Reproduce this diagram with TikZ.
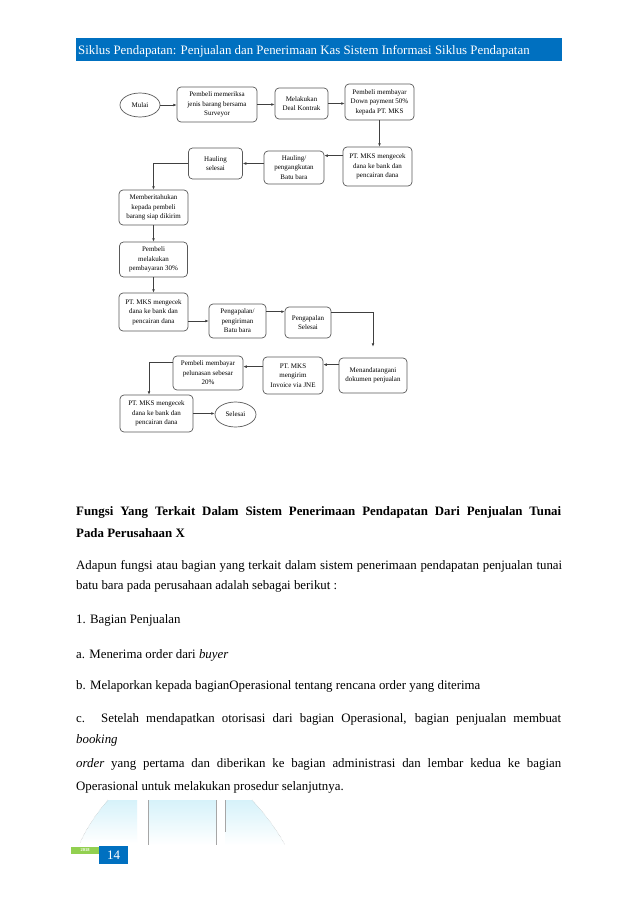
\documentclass[tikz,border=0pt]{standalone}
\usepackage{fontspec}
\setmainfont{Liberation Serif}
\usepackage{tikz}
\usetikzlibrary{shapes.geometric, arrows.meta, positioning, calc}
\usepackage{xcolor}
\definecolor{hdblue}{RGB}{0,112,192}
\definecolor{ftgreen}{RGB}{146,208,80}
\definecolor{ftcyan}{RGB}{214,242,250}
\newcommand{\flowfnt}{\fontsize{7}{9.4}\selectfont}
\newcommand{\bodyfnt}{\fontsize{12.86}{15}\selectfont}
\tikzset{
  fbox/.style={rectangle, draw=black!65, fill=white, line width=0.7pt,
    rounded corners=4pt, align=center, font=\flowfnt, inner sep=1pt},
  fend/.style={ellipse, draw=black!65, fill=white, line width=0.7pt,
    font=\flowfnt, inner sep=1pt},
  arr/.style={-{Latex[length=3.4pt,width=2.8pt]}, line width=0.6pt, draw=black!75},
  txt/.style={anchor=base west, inner sep=0pt, font=\bodyfnt},
}

\begin{document}
\begin{tikzpicture}[x=1pt, y=-1pt]
  \useasboundingbox[fill=white] (0,0) rectangle (638,902);

  % Header bar
  \fill[hdblue] (76,38) rectangle (562,61);
  \node[txt, text=white] (title) at (78,54)
       {Siklus Pendapatan: Penjualan dan Penerimaan Kas Sistem Informasi Siklus Pendapatan};

  % Flowchart: row 1
  \node[fend, minimum width=40, minimum height=24] (mulai) at (140,105) {Mulai};
  \node[fbox, minimum width=80, minimum height=35] (periksa) at (217,104.5)
       {Pembeli memeriksa\\jenis barang bersama\\Surveyor};
  \node[fbox, minimum width=53, minimum height=31] (deal) at (301.5,103.5)
       {Melakukan\\Deal Kontrak};
  \node[fbox, minimum width=69, minimum height=36] (dp) at (379.5,102)
       {Pembeli membayar\\Down payment 50\%\\kepada PT. MKS};

  % Flowchart: row 2
  \node[fbox, minimum width=69, minimum height=39] (cek1) at (377.5,166.5)
       {PT. MKS mengecek\\dana ke bank dan\\pencairan dana};
  \node[fbox, minimum width=60, minimum height=33] (angkut) at (294,167.5)
       {Hauling/\\pengangkutan\\Batu bara};
  \node[fbox, minimum width=54, minimum height=31] (hselesai) at (215.5,163.5)
       {Hauling\\selesai};

  % Flowchart: left column
  \node[fbox, minimum width=69, minimum height=35] (beritahu) at (153.5,207.5)
       {Memberitahukan\\kepada pembeli\\barang siap dikirim};
  \node[fbox, minimum width=68, minimum height=35] (bayar30) at (153.5,259.5)
       {Pembeli\\melakukan\\pembayaran 30\%};
  \node[fbox, minimum width=69, minimum height=38] (cek2) at (153.5,312)
       {PT. MKS mengecek\\dana ke bank dan\\pencairan dana};

  % Flowchart: shipping
  \node[fbox, minimum width=57, minimum height=34] (kirim) at (237.5,321)
       {Pengapalan/\\pengiriman\\Batu bara};
  \node[fbox, minimum width=46, minimum height=31] (kselesai) at (308,322.5)
       {Pengapalan\\Selesai};

  % Flowchart: last rows
  \node[fbox, minimum width=68, minimum height=35] (tanda) at (373,375.5)
       {Menandatangani\\dokumen penjualan};
  \node[fbox, minimum width=60, minimum height=37] (invoice) at (293,375.5)
       {PT. MKS\\mengirim\\Invoice via JNE};
  \node[fbox, minimum width=70, minimum height=34] (lunas) at (208,373)
       {Pembeli membayar\\pelunasan sebesar\\20\%};
  \node[fbox, minimum width=73, minimum height=37] (cek3) at (156.5,413.5)
       {PT. MKS mengecek\\dana ke bank dan\\pencairan dana};
  \node[fend, minimum width=41, minimum height=25] (selesai) at (235.5,414.5) {Selesai};

  % Connectors
  \draw[arr] (mulai.east) -- (mulai.east -| periksa.west);
  \draw[arr] (periksa.east) -- (periksa.east -| deal.west);
  \draw[arr] (deal.east) -- (deal.east -| dp.west);
  \draw[arr] (dp.south) -- (dp.south |- cek1.north);
  \draw[arr] ([yshift=-9pt]cek1.north west) -- ([yshift=-9pt]cek1.north west -| angkut.east);
  \draw[arr] (hselesai.east -| angkut.west) -- (hselesai.east);
  \draw[arr] (hselesai.west) -| (beritahu.north);
  \draw[arr] (beritahu.south) -- (bayar30.north);
  \draw[arr] (bayar30.south) -- (cek2.north);
  \draw[arr] (kirim.west -| cek2.east) -- (kirim.west);
  \draw[arr] ([yshift=-8pt]kirim.north east) -- ([yshift=-8pt]kirim.north east -| kselesai.west);
  \draw[arr] ([yshift=-6pt]kselesai.north east) -| ([yshift=11pt]tanda.north);
  \draw[arr] ([yshift=-7pt]tanda.north west) -- ([yshift=-7pt]tanda.north west -| invoice.east);
  \draw[arr] ([yshift=-10pt]invoice.north west) -- ([yshift=-10pt]invoice.north west -| lunas.east);
  \draw[arr] ([yshift=-7pt]lunas.north west) -| ([xshift=-7.5pt]cek3.north);
  \draw[arr] (cek3.east) -- (cek3.east -| selesai.west);

  % Body text
  \node[txt, font=\bodyfnt\bfseries] (hd1) at (76,515)
       {\makebox[485pt][s]{Fungsi Yang Terkait Dalam Sistem Penerimaan Pendapatan Dari Penjualan Tunai}};
  \node[txt, font=\bodyfnt\bfseries] (hd2) at (76,537) {Pada Perusahaan X};
  \node[txt] (p1) at (76,569)
       {\makebox[486pt][s]{Adapun fungsi atau bagian yang terkait dalam sistem penerimaan pendapatan penjualan tunai}};
  \node[txt] (p2) at (76,589) {batu bara pada perusahaan adalah sebagai berikut :};
  \node[txt] (p3) at (76,623) {1. Bagian Penjualan};
  \node[txt] (p4) at (76,658) {a. Menerima order dari \textit{buyer}};
  \node[txt] (p5) at (76,689) {b. Melaporkan kepada bagianOperasional tentang rencana order yang diterima};
  \node[txt] (p6) at (76,722.5)
       {\makebox[485pt][s]{c. Setelah mendapatkan otorisasi dari bagian Operasional, bagian penjualan membuat}};
  \node[txt] (p7) at (76,743.5) {\textit{booking}};
  \node[txt] (p8) at (76,767)
       {\makebox[485pt][s]{\textit{order} yang pertama dan diberikan ke bagian administrasi dan lembar kedua ke bagian}};
  \node[txt] (p9) at (76,790) {Operasional untuk melakukan prosedur selanjutnya.};

  % Footer panels
  \shade[top color=ftcyan, bottom color=white]
       (108,800) .. controls (96,814) and (86,829) .. (80,843) -- (137,843) -- (137,800) -- cycle;
  \draw[gray!60, densely dotted, thin] (108,800) .. controls (96,814) and (86,829) .. (80,843);
  \shade[top color=ftcyan, bottom color=white] (148,800) rectangle (216,845);
  \draw[gray!70, thin] (148,800) -- (148,845);
  \draw[gray!70, thin] (216,800) -- (216,845);
  \shade[top color=ftcyan, bottom color=white]
       (225,800) -- (252,800) .. controls (265,814) and (277,830) .. (285,845) -- (225,845) -- cycle;
  \draw[gray!60, densely dotted, thin] (252,800) .. controls (265,814) and (277,830) .. (285,845);
  \draw[gray!70, thin] (225,800) -- (225,832);

  % Page number
  \node[fill=ftgreen, text=white, font=\fontsize{4.5}{5}\selectfont\bfseries,
        minimum width=28, minimum height=7.5, inner sep=0pt] (year) at (85,850.5) {2018};
  \node[fill=hdblue, text=white, font=\fontsize{13}{15}\selectfont,
        minimum width=29, minimum height=18, inner sep=0pt] (pnum) at (113.5,855) {14};
\end{tikzpicture}
\end{document}
